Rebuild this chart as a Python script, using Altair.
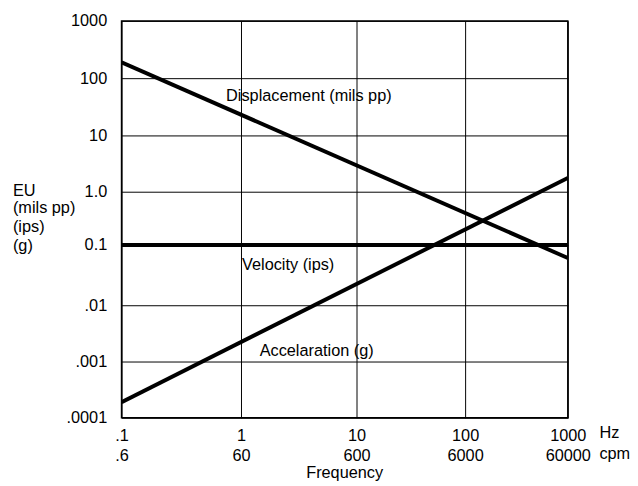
import altair as alt
import pandas as pd

# ---- data ----
SERIES = ["Displacement", "Velocity", "Accelaration"]
FREQ_START = [0.1, 0.1, 0.1]          # Hz
FREQ_END = [1000, 1000, 1000]         # Hz
AMP_START = [189, 0.1, 0.00019]       # EU
AMP_END = [0.061, 0.1, 1.76]          # EU

LABELS = ["Displacement (mils pp)", "Velocity (ips)", "Accelaration (g)"]
LABEL_FREQ = [0.75, 1.02, 1.45]
LABEL_AMP = [49, 0.047, 0.00156]

X_TICKS = [0.1, 1, 10, 100, 1000]
X_HZ = [".1", "1", "10", "100", "1000"]
X_CPM = [".6", "60", "600", "6000", "60000"]
Y_TICKS = [0.0001, 0.001, 0.01, 0.1, 1, 10, 100, 1000]
Y_LABELS = [".0001", ".001", ".01", "0.1", "1.0", "10", "100", "1000"]

FONT = "Liberation Sans"
FS = 16.5

rows = []
for s, f0, f1, a0, a1 in zip(SERIES, FREQ_START, FREQ_END, AMP_START, AMP_END):
    rows.append({"series": s, "freq": f0, "amp": a0})
    rows.append({"series": s, "freq": f1, "amp": a1})
lines_df = pd.DataFrame(rows)
labels_df = pd.DataFrame({"label": LABELS, "freq": LABEL_FREQ, "amp": LABEL_AMP})

def js_list(vals):
    return "[" + ",".join(repr(v) if isinstance(v, str) else str(v) for v in vals) + "]"

x_expr = (f"[{js_list(X_HZ)}[indexof({js_list(X_TICKS)}, datum.value)], "
          f"{js_list(X_CPM)}[indexof({js_list(X_TICKS)}, datum.value)]]")
y_expr = f"{js_list(Y_LABELS)}[indexof({js_list(Y_TICKS)}, datum.value)]"

x_scale = alt.Scale(type="log", domain=X_TICKS, range=[0, 121, 238, 348, 452], nice=False)
y_scale = alt.Scale(type="log", domain=Y_TICKS, range=[402, 345, 288, 227, 173, 116, 58, 0], nice=False)

x_axis = alt.Axis(values=X_TICKS, labelExpr=x_expr, title=None, ticks=False, domain=False,
                  grid=True, gridColor="black", gridWidth=1, labelFont=FONT, labelFontSize=FS,
                  labelColor="black", labelPadding=10, labelLineHeight=20, labelFlush=False,
                  labelOverlap=False)
y_axis = alt.Axis(values=Y_TICKS, labelExpr=y_expr, title=None, ticks=False, domain=False,
                  grid=True, gridColor="black", gridWidth=1, labelFont=FONT, labelFontSize=FS,
                  labelColor="black", labelPadding=15, labelBaseline="middle", labelFlush=False,
                  labelOverlap=False)

lines = alt.Chart(lines_df).mark_line(color="black", strokeWidth=4, clip=True).encode(
    x=alt.X("freq:Q", scale=x_scale, axis=x_axis),
    y=alt.Y("amp:Q", scale=y_scale, axis=y_axis),
    detail="series:N",
)

labels = alt.Chart(labels_df).mark_text(align="left", baseline="middle", font=FONT,
                                         fontSize=FS, color="black").encode(
    x=alt.X("freq:Q", scale=x_scale),
    y=alt.Y("amp:Q", scale=y_scale),
    text="label:N",
)

def note(txt, x, y, align="left"):
    return alt.Chart(pd.DataFrame({"t": [txt]})).mark_text(
        align=align, baseline="middle", font=FONT, fontSize=FS, color="black"
    ).encode(x=alt.value(x), y=alt.value(y), text="t:N")

notes = [
    note("EU", -110, 172),
    note("(mils pp)", -110, 190),
    note("(ips)", -110, 209),
    note("(g)", -110, 228),
    note("Hz", 484, 417),
    note("cpm", 484, 439),
    note("Frequency", 226, 458, align="center"),
]

chart = alt.layer(lines, labels, *notes).properties(
    width=452, height=402,
    autosize=alt.AutoSizeParams(type="none"),
    padding={"left": 115, "top": 10, "right": 63, "bottom": 66},
).configure_view(stroke="black", strokeWidth=1.5)

chart.save("out.html", embed_options={"renderer": "svg", "actions": False})
